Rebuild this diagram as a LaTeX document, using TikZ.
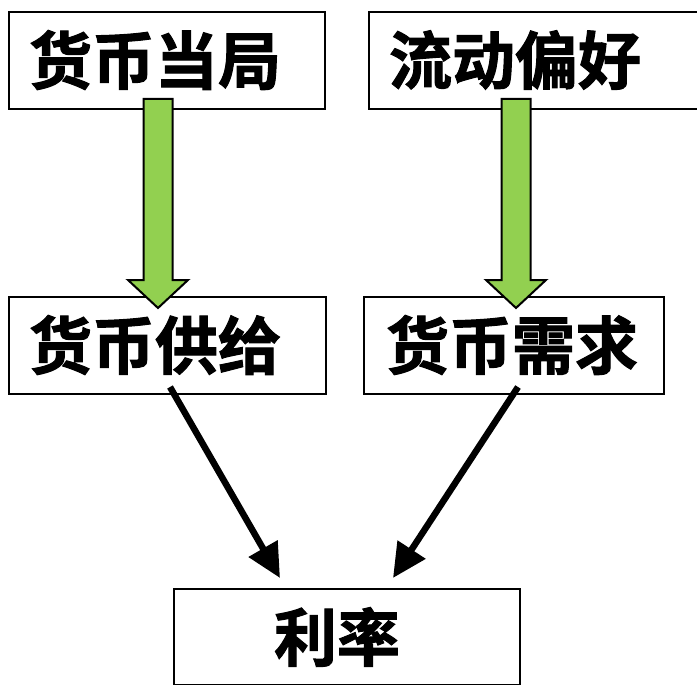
\documentclass[tikz,border=0pt]{standalone}
\usepackage{fontspec}
\newfontfamily\cjk{Noto Sans CJK SC}[BoldFont=* Bold, BoldFeatures={FakeBold=1.6}]
\usetikzlibrary{arrows.meta}
\definecolor{agreen}{RGB}{146,208,80}
\tikzset{
  box/.style={draw=black, line width=2pt, fill=white, fill opacity=0.85, anchor=north west, inner sep=0pt},
  lbl/.style={font=\cjk\bfseries\fontsize{63}{63}\selectfont, inner sep=0pt},
  garrow/.style={draw=black, line width=2pt, fill=agreen, line join=miter},
  blk/.style={line width=6.5pt, -{Triangle[length=34pt,width=32pt]}, shorten >=0pt}
}
\begin{document}
\begin{tikzpicture}[x=1pt,y=-1pt]
\useasboundingbox (0,0) rectangle (697,685);
\clip (0,0) rectangle (697,685);
\fill[white] (0,0) rectangle (697,685);
% boxes
\node[box, minimum width=316pt, minimum height=97pt] (b1) at (8,11) {};
\node[box, minimum width=340pt, minimum height=97pt] (b2) at (368,11) {};
\node[box, minimum width=317pt, minimum height=97pt] (b3) at (8,296) {};
\node[box, minimum width=300pt, minimum height=97pt] (b4) at (363,296) {};
\node[box, minimum width=346pt, minimum height=96pt] (b5) at (173,588) {};
% labels
\node[lbl] (t1) at (155,60) {货币当局};
\node[lbl] (t2) at (515,60) {流动偏好};
\node[lbl] (t3) at (155,345) {货币供给};
\node[lbl] (t4) at (512,345) {货币需求};
\node[lbl] (t5) at (337,637) {利率};
% green arrows
\coordinate (g1) at (158,99);
\coordinate (g2) at (516,99);
\foreach \g in {g1,g2}{
  \draw[garrow] ([xshift=-14.5pt]\g) -- ([xshift=14.5pt]\g) -- ([xshift=14.5pt,yshift=-181pt]\g)
    -- ([xshift=30pt,yshift=-181pt]\g) -- ([yshift=-209pt]\g) -- ([xshift=-30pt,yshift=-181pt]\g)
    -- ([xshift=-14.5pt,yshift=-181pt]\g) -- cycle;
}
% black arrows
\coordinate (s1) at (170,387);
\coordinate (e1) at (280,578);
\coordinate (s2) at (518,387);
\coordinate (e2) at (393,578);
\draw[blk] (s1) -- (e1);
\draw[blk] (s2) -- (e2);
\end{tikzpicture}
\end{document}
